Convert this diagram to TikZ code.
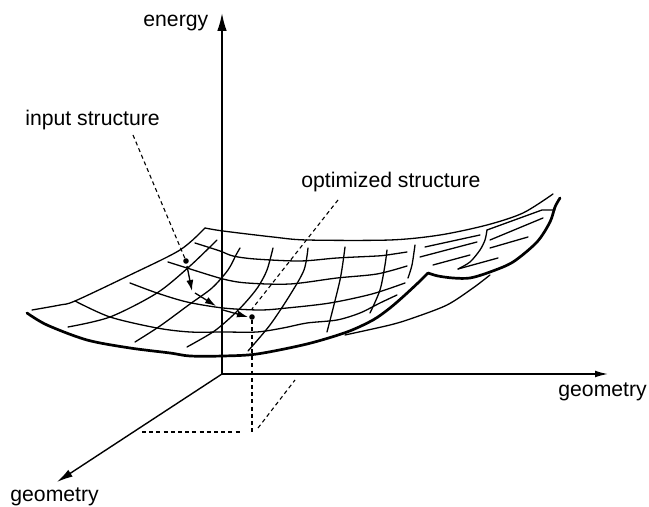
\documentclass[tikz,border=0pt]{standalone}
\usepackage{fontspec}
\setmainfont{Liberation Sans}
\usetikzlibrary{arrows.meta}
\begin{document}
\begin{tikzpicture}[x=0.5pt,y=-0.5pt,
  gridln/.style={line width=0.65pt, line join=round, line cap=round},
  edgeln/.style={line width=1.35pt, line join=round, line cap=round},
  axisln/.style={line width=0.7pt},
  leader/.style={line width=0.55pt, dash pattern=on 2pt off 1.6pt},
  stepar/.style={line width=0.65pt, -{Latex[length=5.5pt,width=3.5pt]}},
  lbl/.style={inner sep=0pt, font=\fontsize{10.6}{12}\selectfont},
  dotp/.style={circle, fill, inner sep=0pt, minimum size=2.8pt}]
\useasboundingbox (0,0) rectangle (649,507);

% axes
\coordinate (O) at (222,374);
\coordinate (Etip) at (222,13);
\coordinate (Xtip) at (608,374);
\coordinate (Ytip) at (57,482);
\draw[axisln, line width=0.85pt, -{Latex[length=9pt,width=4.8pt]}] (O) -- (Etip);
\draw[axisln, -{Latex[length=6.5pt,width=3.4pt]}] (O) -- (Xtip);
\draw[axisln, -{Latex[length=8pt,width=4pt]}] (O) -- (Ytip);

% labels
\node[lbl, anchor=base west] (energy) at (143,27) {energy};
\node[lbl, anchor=base west] (input) at (25,126) {input structure};
\node[lbl, anchor=base west] (opt) at (301,188) {optimized structure};
\node[lbl, anchor=base west] (geoX) at (558,397) {geometry};
\node[lbl, anchor=base west] (geoY) at (10,502) {geometry};

% surface outline
\draw[gridln] plot[smooth, tension=0.5] coordinates {(32,310) (60,305) (75,301) (130,275) (180,250) (205,228)};
\draw[gridln] plot[smooth, tension=0.5] coordinates {(205,228) (223,231) (273,237) (307,240) (390,240) (440,235) (487,225) (523,213) (553,194)};
\draw[edgeln] plot[smooth, tension=0.5] coordinates {(27,313) (47,325) (87,340) (130,348) (170,353) (190,356) (223,356) (257,354) (307,344) (347,332) (373,320) (390,308) (405,295) (420,281) (428,273)};
\draw[edgeln] plot[smooth, tension=0.5] coordinates {(428,273) (438,276) (453,278) (470,278) (490,272) (513,262) (537,242) (550,222) (555,207) (560,198)};
\draw[gridln] plot[smooth, tension=0.5] coordinates {(345,335) (390,325) (413,318) (447,305) (473,288) (490,275)};

% transverse grid lines
\draw[gridln] plot[smooth, tension=0.5] coordinates {(68,327) (110,317) (157,293) (190,266) (217,240)};
\draw[gridln] plot[smooth, tension=0.5] coordinates {(135,342) (160,326) (190,304) (212,288) (228,270) (236,255) (240,248)};
\draw[gridln] plot[smooth, tension=0.5] coordinates {(187,347) (213,332) (230,318) (245,303) (258,287) (267,270) (273,248)};
\draw[gridln] plot[smooth, tension=0.5] coordinates {(248,351) (270,325) (290,295) (304,270) (308,248)};
\draw[gridln] plot[smooth, tension=0.5] coordinates {(327,332) (340,280) (345,247)};
\draw[gridln] plot[smooth, tension=0.5] coordinates {(370,313) (380,290) (385,265) (387,250)};
\draw[gridln] plot[smooth, tension=0.5] coordinates {(408,278) (412,265) (415,245)};

% longitudinal grid lines
\draw[gridln] plot[smooth, tension=0.5] coordinates {(195,243) (220,251) (233,256) (255,259) (300,261) (337,258) (377,256) (387,255) (407,252)};
\draw[gridln] plot[smooth, tension=0.5] coordinates {(168,262) (187,268) (223,279) (247,283) (290,284) (337,278) (377,274) (407,266)};
\draw[gridln] plot[smooth, tension=0.5] coordinates {(130,283) (157,293) (187,302) (223,308) (260,310) (287,308) (330,303) (372,294) (405,283)};
\draw[gridln] plot[smooth, tension=0.5] coordinates {(75,301) (110,317) (157,328) (190,332) (223,332) (257,332) (283,328) (307,323) (337,320) (360,313) (380,303) (397,295)};

% right part
\draw[gridln] (425,247) -- (480,235);
\draw[gridln] (420,257) -- (477,242);
\draw[gridln] (433,265) -- (470,255);
\draw[gridln] (555,210) -- (542,210) -- (487,230);
\draw[gridln] plot[smooth, tension=0.5] coordinates {(487,230) (485,240) (480,250) (470,262) (458,269)};
\draw[gridln] (458,269) -- (498,258);
\draw[gridln] (490,240) -- (543,218);
\draw[gridln] (490,248) -- (528,237);

% structures
\coordinate (inL) at (133,135);
\coordinate (optL) at (338,200);
\node[dotp] (inDot) at (186,261) {};
\node[dotp] (optDot) at (252,317) {};
\coordinate (a1s) at (187,266);
\coordinate (a1e) at (192,291);
\coordinate (a2s) at (195,293);
\coordinate (a2e) at (216,306);
\coordinate (a3s) at (223,310);
\coordinate (a3e) at (248,317);
\draw[stepar] (a1s) -- (a1e);
\draw[stepar] (a2s) -- (a2e);
\draw[stepar] (a3s) -- (a3e);

\draw[leader] (inL) -- (inDot);
\draw[leader] (optL) -- (252,309);
\coordinate (vb) at (252,432);
\draw[leader] (optDot) -- (vb);
\coordinate (h1) at (142,432);
\coordinate (h2) at (240,432);
\draw[leader] (h1) -- (h2);
\coordinate (d1) at (258,428);
\coordinate (d2) at (295,380);
\draw[leader] (d1) -- (d2);
\end{tikzpicture}
\end{document}
